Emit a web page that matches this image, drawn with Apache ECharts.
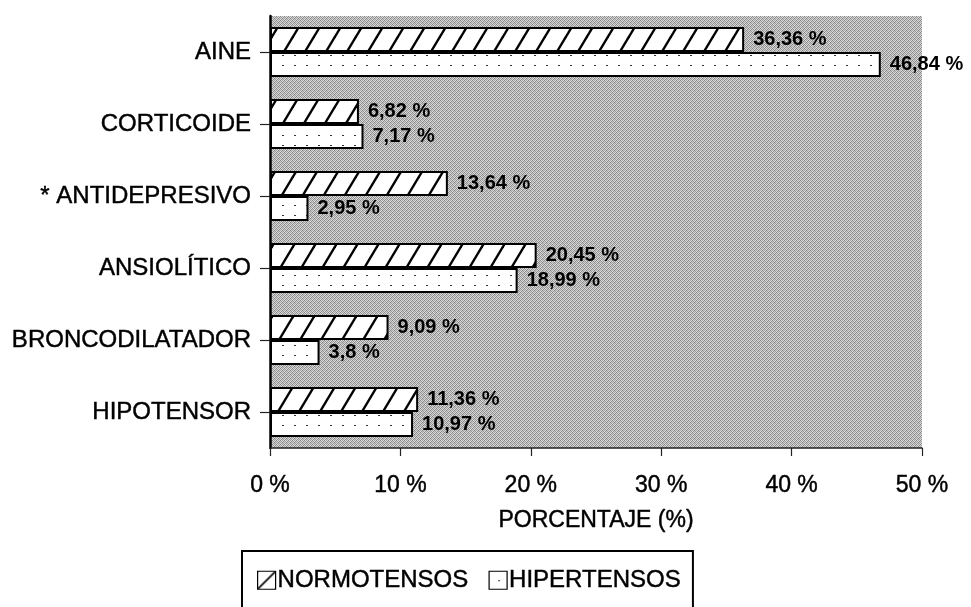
<!DOCTYPE html>
<html>
<head>
<meta charset="utf-8">
<script src="https://cdn.jsdelivr.net/npm/echarts@6/dist/echarts.min.js"></script>
<style>
  html, body { margin: 0; padding: 0; background: #fff; }
  #chart { width: 971px; height: 607px; }
</style>
</head>
<body>
<div id="chart"></div>
<script>
// Drug groups, top to bottom
const categories = ['AINE', 'CORTICOIDE', '* ANTIDEPRESIVO', 'ANSIOLÍTICO', 'BRONCODILATADOR', 'HIPOTENSOR'];
// Share of patients (%) in each group
const normotensos = [36.36, 6.82, 13.64, 20.45, 9.09, 11.36];
const hipertensos = [46.84, 7.17, 2.95, 18.99, 3.8, 10.97];
const seriesNames = ['NORMOTENSOS', 'HIPERTENSOS'];
const xTicks = { min: 0, max: 50, step: 10 };

const FONT = '"Liberation Sans", Arial, Helvetica, sans-serif';
// slight outline so the thin sans text reads as heavy as print
const INK = { textBorderColor: '#000', textBorderWidth: 0.45 };

// Diagonal hatching tile for the first series
function hatchTile(w, h, lw) {
  const c = document.createElement('canvas');
  c.width = w; c.height = h;
  const g = c.getContext('2d');
  g.fillStyle = '#fff';
  g.fillRect(0, 0, w, h);
  g.strokeStyle = '#000';
  g.lineWidth = lw;
  g.lineCap = 'square';
  for (const dx of [-w, 0, w]) {
    g.beginPath();
    g.moveTo(dx, h);
    g.lineTo(dx + w, 0);
    g.stroke();
  }
  return c;
}

// Sparse dot tile for the second series
function dotTile(w, h) {
  const c = document.createElement('canvas');
  c.width = w; c.height = h;
  const g = c.getContext('2d');
  g.fillStyle = '#fff';
  g.fillRect(0, 0, w, h);
  g.fillStyle = '#333';
  g.fillRect(Math.floor(w / 2), Math.floor(h / 2), 2, 1);
  return c;
}

// Fine stipple used for the plot background
function stippleTile() {
  const c = document.createElement('canvas');
  c.width = 4; c.height = 4;
  const g = c.getContext('2d');
  const shades = [
    ['#838383', '#dcdcdc', '#a4a4a4', '#d6d6d6'],
    ['#d0d0d0', '#959595', '#e0e0e0', '#8a8a8a'],
    ['#a9a9a9', '#d8d8d8', '#808080', '#cccccc'],
    ['#dadada', '#8f8f8f', '#c8c8c8', '#9c9c9c']
  ];
  for (let y = 0; y < 4; y++) {
    for (let x = 0; x < 4; x++) {
      g.fillStyle = shades[y][x];
      g.fillRect(x, y, 1, 1);
    }
  }
  return c;
}

const hatchFill = { image: hatchTile(21, 35, 2.4), repeat: 'repeat' };
const dotFill = { image: dotTile(12, 10), repeat: 'repeat' };
const legendHatch = { image: hatchTile(18, 18, 1.6), repeat: 'repeat' };
const legendDot = { image: dotTile(18, 18), repeat: 'repeat' };
const stippleFill = { image: stippleTile(), repeat: 'repeat' };

const fmt = v => String(v).replace('.', ',') + ' %';

const chart = echarts.init(document.getElementById('chart'), null, { renderer: 'canvas' });

const barLabel = {
  show: true,
  position: 'right',
  distance: 9,
  color: '#000',
  fontFamily: FONT,
  fontWeight: 'bold',
  fontSize: 20,
  formatter: p => fmt(p.value)
};

chart.setOption({
  animation: false,
  backgroundColor: '#fff',
  grid: {
    left: 270, right: 49, top: 16, bottom: 159,
    show: true,
    backgroundColor: stippleFill,
    borderWidth: 0
  },
  legend: {
    left: 242,
    top: 551,
    orient: 'horizontal',
    padding: [17, 12, 40, 15],
    itemGap: 20,
    itemWidth: 18,
    itemHeight: 18,
    borderColor: '#000',
    borderWidth: 2,
    icon: 'rect',
    textStyle: Object.assign({ color: '#000', fontFamily: FONT, fontSize: 24, padding: [0, 0, 0, -3] }, INK),
    data: [
      { name: seriesNames[0], itemStyle: { color: legendHatch, borderColor: '#000', borderWidth: 1.2 } },
      { name: seriesNames[1], itemStyle: { color: legendDot, borderColor: '#000', borderWidth: 1.2 } }
    ]
  },
  xAxis: {
    type: 'value',
    min: xTicks.min,
    max: xTicks.max,
    interval: xTicks.step,
    name: 'PORCENTAJE (%)',
    nameLocation: 'middle',
    nameGap: 61,
    nameTextStyle: Object.assign({ color: '#000', fontFamily: FONT, fontSize: 23 }, INK),
    axisLine: { show: true, lineStyle: { color: '#222', width: 1.5 } },
    axisTick: { show: true, length: 8, lineStyle: { color: '#222', width: 1.2 } },
    axisLabel: Object.assign({
      color: '#000', fontFamily: FONT, fontSize: 23, margin: 26,
      formatter: '{value} %'
    }, INK),
    splitLine: { show: false }
  },
  yAxis: {
    type: 'category',
    data: categories,
    inverse: true,
    axisLine: { show: true, lineStyle: { color: '#000', width: 2.5 } },
    axisTick: { show: true, length: 10, alignWithLabel: true, lineStyle: { color: '#222', width: 1.2 } },
    axisLabel: Object.assign({ color: '#000', fontFamily: FONT, fontSize: 24, margin: 19 }, INK),
    splitLine: { show: false }
  },
  series: [
    {
      name: seriesNames[0],
      type: 'bar',
      data: normotensos,
      barWidth: 25,
      barGap: '0%',
      itemStyle: { color: hatchFill, borderColor: '#000', borderWidth: 2 },
      label: barLabel
    },
    {
      name: seriesNames[1],
      type: 'bar',
      data: hipertensos,
      barWidth: 25,
      barGap: '0%',
      itemStyle: { color: dotFill, borderColor: '#000', borderWidth: 2 },
      label: barLabel
    }
  ]
});
</script>
</body>
</html>
